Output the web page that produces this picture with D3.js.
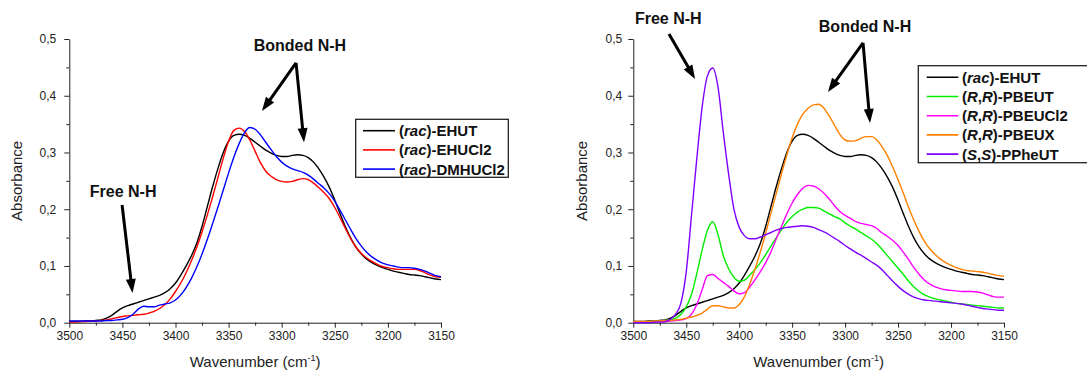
<!DOCTYPE html>
<html><head><meta charset="utf-8">
<script src="https://cdn.jsdelivr.net/npm/d3@7/dist/d3.min.js"></script>
<style>
html,body{margin:0;padding:0;background:#fff;}
svg{display:block;font-family:"Liberation Sans",Arial,sans-serif;}
</style></head><body>
<svg id="chart" width="1087" height="372"></svg>
<script>
const wavenumbers = [3500,3495,3490,3485,3480,3475,3470,3465,3460,3455,3450,3445,3440,3435,3430,3425,3420,3415,3410,3405,3400,3395,3390,3385,3380,3375,3370,3365,3360,3355,3350,3345,3340,3335,3330,3325,3320,3315,3310,3305,3300,3295,3290,3285,3280,3275,3270,3265,3260,3255,3250,3245,3240,3235,3230,3225,3220,3215,3210,3205,3200,3195,3190,3185,3180,3175,3170,3165,3160,3155,3150];

const racEHUT = [.002,.002,.002,.003,.003,.004,.005,.008,.013,.020,.026,.030,.033,.036,.039,.042,.045,.048,.053,.060,.070,.084,.100,.118,.140,.170,.205,.240,.272,.300,.320,.330,.332,.330,.325,.318,.311,.304,.299,.295,.293,.293,.295,.296,.295,.291,.283,.271,.256,.238,.216,.192,.169,.149,.133,.121,.112,.106,.101,.097,.094,.091,.089,.087,.085,.084,.083,.081,.079,.077,.076];
const racEHUCl2 = [.001,.001,.002,.002,.003,.003,.004,.005,.007,.009,.011,.012,.013,.014,.015,.017,.020,.025,.032,.042,.055,.070,.088,.109,.133,.160,.190,.222,.256,.290,.320,.339,.343,.337,.322,.302,.282,.267,.258,.252,.249,.248,.249,.252,.254,.252,.246,.238,.229,.218,.203,.185,.166,.148,.133,.122,.114,.108,.103,.099,.097,.095,.094,.094,.094,.094,.092,.088,.084,.081,.080];
const racDMHUCl2 = [.003,.003,.003,.003,.003,.003,.003,.004,.004,.005,.006,.009,.015,.024,.029,.028,.028,.031,.033,.035,.040,.049,.062,.078,.098,.121,.147,.175,.204,.234,.264,.292,.316,.335,.344,.341,.331,.318,.305,.293,.283,.276,.271,.268,.265,.260,.253,.245,.237,.227,.214,.198,.181,.164,.148,.135,.124,.116,.110,.105,.102,.100,.098,.097,.097,.096,.094,.091,.087,.083,.081];
const rrPBEUT = [.001,.001,.001,.002,.002,.003,.004,.005,.008,.015,.028,.050,.087,.128,.163,.178,.155,.118,.095,.080,.073,.075,.084,.094,.106,.120,.135,.150,.164,.177,.187,.195,.200,.203,.203,.202,.197,.192,.187,.183,.176,.170,.165,.159,.153,.147,.139,.129,.118,.107,.096,.085,.073,.063,.055,.049,.045,.042,.040,.038,.036,.034,.033,.032,.031,.030,.029,.028,.027,.026,.026];
const rrPBEUCl2 = [.001,.001,.001,.001,.001,.002,.002,.003,.004,.005,.007,.015,.032,.058,.083,.085,.078,.071,.064,.056,.051,.053,.063,.076,.090,.106,.125,.148,.170,.192,.211,.226,.237,.242,.241,.236,.228,.218,.206,.196,.189,.184,.178,.175,.173,.171,.166,.158,.152,.145,.136,.124,.111,.097,.085,.075,.068,.063,.060,.058,.057,.056,.055,.055,.055,.054,.052,.049,.046,.045,.045];
const rrPBEUX = [.002,.002,.002,.002,.003,.003,.004,.004,.005,.006,.008,.010,.013,.017,.024,.030,.030,.028,.026,.026,.032,.046,.068,.095,.125,.158,.193,.228,.263,.296,.326,.350,.367,.378,.384,.385,.378,.364,.348,.332,.322,.320,.321,.325,.328,.328,.322,.310,.294,.274,.252,.228,.203,.180,.160,.143,.130,.120,.112,.106,.101,.097,.094,.092,.091,.090,.089,.087,.085,.083,.082];
const ssPPheUT = [.000,.000,.000,.000,.001,.001,.002,.006,.015,.035,.090,.190,.290,.380,.435,.449,.415,.335,.262,.200,.168,.153,.148,.148,.151,.155,.159,.163,.166,.168,.169,.170,.171,.170,.168,.164,.160,.155,.149,.143,.136,.130,.124,.119,.113,.107,.101,.093,.083,.073,.064,.056,.050,.045,.042,.040,.039,.038,.037,.036,.035,.034,.033,.031,.029,.027,.025,.024,.023,.022,.022];

const xTicks = [3500,3450,3400,3350,3300,3250,3200,3150];
const xMinor = [3475,3425,3375,3325,3275,3225,3175];
const yTicks = [0,0.1,0.2,0.3,0.4,0.5];
const yMinor = [0.05,0.15,0.25,0.35,0.45];

const leftSeries = [
  {pre:"(", it:"rac", post:")-EHUT", values:racEHUT, color:"#000000"},
  {pre:"(", it:"rac", post:")-EHUCl2", values:racEHUCl2, color:"#ff0000"},
  {pre:"(", it:"rac", post:")-DMHUCl2", values:racDMHUCl2, color:"#0000ff"}
];
const rightSeries = [
  {label:[["(",0],["rac",1],[")-EHUT",0]], values:racEHUT, color:"#000000"},
  {label:[["(",0],["R",1],[",",0],["R",1],[")-PBEUT",0]], values:rrPBEUT, color:"#00ee00"},
  {label:[["(",0],["R",1],[",",0],["R",1],[")-PBEUCl2",0]], values:rrPBEUCl2, color:"#ff00ff"},
  {label:[["(",0],["R",1],[",",0],["R",1],[")-PBEUX",0]], values:rrPBEUX, color:"#ff8000"},
  {label:[["(",0],["S",1],[",",0],["S",1],[")-PPheUT",0]], values:ssPPheUT, color:"#8000ff"}
];
leftSeries.forEach(s => s.label = [[s.pre,0],[s.it,1],[s.post,0]]);

const svg = d3.select("#chart");
const fmt = d => d3.format(".1f")(d).replace(".", ",");
const ink = "#222";

function panel(cfg) {
  const x = d3.scaleLinear().domain([3500,3150]).range([cfg.x0, cfg.x1]);
  const y = d3.scaleLinear().domain([0,0.5]).range([cfg.y0, cfg.y1]);
  const g = svg.append("g");

  // minor ticks
  g.append("g").attr("transform",`translate(0,${cfg.y0})`)
    .call(d3.axisBottom(x).tickValues(xMinor).tickSize(3).tickFormat(""))
    .call(a => a.select(".domain").remove());
  g.append("g").attr("transform",`translate(${cfg.x0},0)`)
    .call(d3.axisLeft(y).tickValues(yMinor).tickSize(3).tickFormat(""))
    .call(a => a.select(".domain").remove());
  // major axes
  const xa = g.append("g").attr("transform",`translate(0,${cfg.y0})`)
    .call(d3.axisBottom(x).tickValues(xTicks).tickSize(5).tickSizeOuter(0).tickPadding(4).tickFormat(d3.format("d")));
  const ya = g.append("g").attr("transform",`translate(${cfg.x0},0)`)
    .call(d3.axisLeft(y).tickValues(yTicks).tickSize(5).tickSizeOuter(0).tickPadding(cfg.ypad).tickFormat(fmt));
  g.selectAll(".tick line").attr("stroke", ink);
  g.selectAll(".domain").attr("stroke", ink);
  g.selectAll(".tick text").attr("fill", ink).style("font-size","12px").style("font-family",'"Liberation Sans",Arial,sans-serif');

  // curves
  const line = d3.line().x((d,i)=>x(wavenumbers[i])).y(d=>y(d)).curve(d3.curveMonotoneX);
  cfg.series.forEach(s => {
    g.append("path").datum(s.values).attr("d", line)
      .attr("fill","none").attr("stroke", s.color).attr("stroke-width",1.4);
  });

  // axis titles
  g.append("text").attr("transform",`translate(${cfg.ylabX},${(cfg.y0+cfg.y1)/2}) rotate(-90)`)
    .attr("text-anchor","middle").attr("dy","0.35em").attr("fill",ink).style("font-size","15px").text("Absorbance");
  const xt = g.append("text").attr("x",(cfg.x0+cfg.x1)/2).attr("y",367).attr("text-anchor","middle")
    .attr("fill",ink).style("font-size","15px");
  xt.append("tspan").text("Wavenumber (cm");
  xt.append("tspan").attr("dy","-6").style("font-size","9px").text("-1");
  xt.append("tspan").attr("dy","6").text(")");

  // legend
  const L = cfg.legend;
  g.append("rect").attr("x",L.x).attr("y",L.y).attr("width",L.w).attr("height",L.h)
    .attr("fill","#fff").attr("stroke",ink).attr("stroke-width",1.3);
  cfg.series.forEach((s,i) => {
    const cy = L.y + L.first + i*L.step;
    g.append("line").attr("x1",L.lx0).attr("x2",L.lx1).attr("y1",cy).attr("y2",cy)
      .attr("stroke",s.color).attr("stroke-width",1.6);
    const t = g.append("text").attr("x",L.tx).attr("y",cy).attr("dy","0.36em")
      .attr("fill","#111").style("font-size","15px").style("font-weight","bold");
    s.label.forEach(([txt,it]) => t.append("tspan").style("font-style", it?"italic":"normal").text(txt));
  });

  // annotations
  cfg.notes.forEach(n => {
    g.append("text").attr("x",x(n.tx)).attr("y",y(n.ty)).attr("text-anchor","middle")
      .attr("fill","#111").style("font-size","16px").style("font-weight","bold").text(n.text);
    n.arrows.forEach(a => arrow(g, x(n.ax), y(n.ay), x(a[0]), y(a[1])));
  });
}

function arrow(g, x1, y1, x2, y2) {
  const dx = x2-x1, dy = y2-y1, len = Math.hypot(dx,dy);
  const ux = dx/len, uy = dy/len;
  const hl = 14, hw = 5;
  const bx = x2 - ux*hl, by = y2 - uy*hl;
  g.append("line").attr("x1",x1).attr("y1",y1).attr("x2",bx+ux*2).attr("y2",by+uy*2)
    .attr("stroke","#000").attr("stroke-width",3);
  g.append("path").attr("d",`M${x2},${y2}L${bx-uy*hw},${by+ux*hw}L${bx+uy*hw},${by-ux*hw}Z`).attr("fill","#000");
}

panel({
  x0:69.3, x1:441, y0:322.7, y1:39, ypad:8, ylabX:17, series:leftSeries,
  legend:{x:355.7, y:119.3, w:152.6, h:58, first:11.4, step:19.2, lx0:363, lx1:395, tx:399},
  notes:[
    {text:"Bonded N-H", tx:3282.8, ty:0.479, ax:3286.5, ay:0.458, arrows:[[3318.6,0.373],[3279,0.318]]},
    {text:"Free N-H", tx:3449.3, ty:0.2215, ax:3450.3, ay:0.2074, arrows:[[3440.5,0.0524]]}
  ]
});
panel({
  x0:633.3, x1:1004, y0:322.7, y1:39, ypad:6, ylabX:582, series:rightSeries,
  legend:{x:918.3, y:65.7, w:180, h:97, first:11.6, step:19.2, lx0:926.7, lx1:958.3, tx:962},
  notes:[
    {text:"Free N-H", tx:3467, ty:0.5256, ax:3466.3, ay:0.5088, arrows:[[3441.7,0.4295]]},
    {text:"Bonded N-H", tx:3281.2, ty:0.5115, ax:3283.1, ay:0.493, arrows:[[3316.2,0.4066],[3276.5,0.352]]}
  ]
});
</script>
</body></html>
